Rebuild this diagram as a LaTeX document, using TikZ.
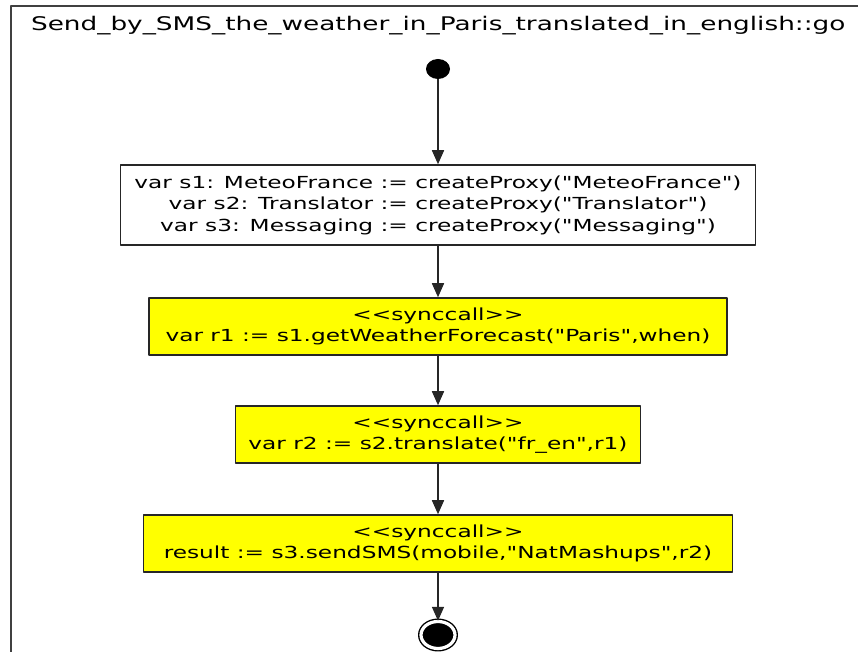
\documentclass[tikz,border=0pt]{standalone}
\usepackage{fontspec}
\setmainfont{DejaVu Sans}[FakeStretch=1.4, Ligatures=TeXOff]
\usetikzlibrary{arrows.meta,shapes.geometric}
\definecolor{syncyellow}{RGB}{255,255,0}

\begin{document}
\begin{tikzpicture}[
    x = 0.5pt, y = -0.5pt,
    line join=round,
    flow/.style = {draw=black!85, line width=0.8pt, -{Triangle[length=7pt,width=6pt]}},
    actionbox/.style = {draw=black!85, line width=0.75pt, align=center, inner sep=0pt,
        font=\fontsize{8.3}{10.75}\selectfont},
    syncbox/.style = {actionbox, fill=syncyellow, minimum height=28.5pt},
    initial/.style = {ellipse, fill=black, minimum width=12pt, minimum height=10pt, inner sep=0pt},
    final/.style = {ellipse, draw=black, fill=black, double=white, double distance=1.6pt,
        line width=0.7pt, minimum width=17pt, minimum height=13.5pt, inner sep=0pt}
]

\useasboundingbox (0, 0) rectangle (858, 652);
\clip (0, 0) rectangle (858, 652);

\draw[line width=1pt, black!75] (11, 6) rectangle (900, 700);
\node[anchor=west, font=\fontsize{9.4}{11}\selectfont] (title) at (24, 26)
    {Send\_by\_SMS\_the\_weather\_in\_Paris\_translated\_in\_english::go};

\node[initial] (start) at (438, 69) {};

\node[actionbox, minimum width=317.5pt, minimum height=40pt] (proxies) at (438, 205)
    {var s1: MeteoFrance := createProxy("MeteoFrance")\\
     var s2: Translator := createProxy("Translator")\\
     var s3: Messaging := createProxy("Messaging")};

\node[syncbox, minimum width=289pt] (weather) at (438, 326.5)
    {<<synccall>>\\var r1 := s1.getWeatherForecast("Paris",when)};

\node[syncbox, minimum width=202.5pt] (translate) at (438, 434.5)
    {<<synccall>>\\var r2 := s2.translate("fr\_en",r1)};

\node[syncbox, minimum width=294.5pt] (sms) at (438, 543.5)
    {<<synccall>>\\result := s3.sendSMS(mobile,"NatMashups",r2)};

\node[final] (stop) at (438, 635) {};

\draw[flow] (start) -- (proxies);
\draw[flow] (proxies) -- (weather);
\draw[flow] (weather) -- (translate);
\draw[flow] (translate) -- (sms);
\draw[flow] (sms) -- (stop);

\end{tikzpicture}
\end{document}
